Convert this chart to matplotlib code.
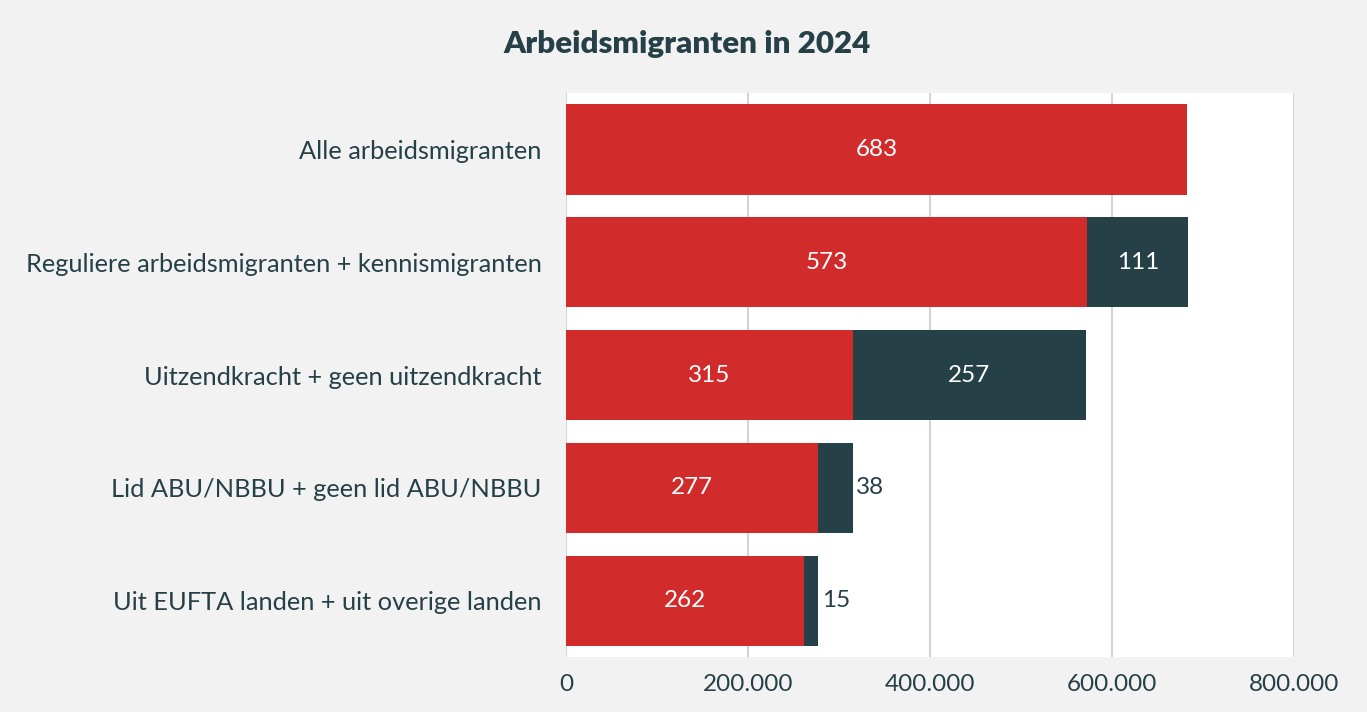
import matplotlib.pyplot as plt
from matplotlib.ticker import FuncFormatter

categories = [
    'Alle arbeidsmigranten',
    'Reguliere arbeidsmigranten + kennismigranten',
    'Uitzendkracht + geen uitzendkracht',
    'Lid ABU/NBBU + geen lid ABU/NBBU',
    'Uit EUFTA landen + uit overige landen',
]
first_part = [683000, 573000, 315000, 277000, 262000]
second_part = [0, 111000, 257000, 38000, 15000]
ticks = [0, 200000, 400000, 600000, 800000]

RED = '#d22b2b'
DARK = '#264048'
BG = '#f2f2f2'

plt.rcParams['font.family'] = ['Lato', 'DejaVu Sans']

fig = plt.figure(figsize=(13.67, 7.12), dpi=100, facecolor=BG)
ax = fig.add_axes([0.414, 0.0772, 0.5325, 0.7922])
ax.set_facecolor('white')

y = list(range(len(categories)))
b1 = ax.barh(y, first_part, height=0.8, color=RED, zorder=3)
b2 = ax.barh(y, second_part, left=first_part, height=0.8, color=DARK, zorder=3)

for rect, v in zip(b1, first_part):
    ax.text(rect.get_x() + rect.get_width() / 2, rect.get_y() + rect.get_height() / 2,
            f'{v // 1000}', ha='center', va='center', color='white', fontsize=17.5, zorder=4)

for rect, v in zip(b2, second_part):
    if v == 0:
        continue
    cx = rect.get_y() + rect.get_height() / 2
    if v >= 60000:
        ax.text(rect.get_x() + rect.get_width() / 2, cx, f'{v // 1000}',
                ha='center', va='center', color='white', fontsize=17.5, zorder=4)
    else:
        ax.text(rect.get_x() + rect.get_width() + 4000, cx, f'{v // 1000}',
                ha='left', va='center', color=DARK, fontsize=17.5, zorder=4)

ax.set_xlim(0, 800000)
ax.set_ylim(len(categories) - 0.5, -0.5)
ax.set_xticks(ticks)
ax.xaxis.set_major_formatter(FuncFormatter(lambda v, p: f'{int(v):,}'.replace(',', '.')))
ax.set_yticks(y)
ax.set_yticklabels(categories)
ax.tick_params(axis='both', length=0, colors=DARK)
ax.tick_params(axis='y', pad=17.5, labelsize=18.3)
ax.tick_params(axis='x', pad=12, labelsize=17.5)
ax.grid(axis='x', color='#d4d4d4', linewidth=1.5, zorder=0)
for s in ax.spines.values():
    s.set_visible(False)

fig.text(0.5026, 0.938, 'Arbeidsmigranten in 2024', ha='center', va='center',
         fontsize=22.5, fontweight='heavy', color=DARK)

fig.savefig('out.png', dpi=100, facecolor=BG)
